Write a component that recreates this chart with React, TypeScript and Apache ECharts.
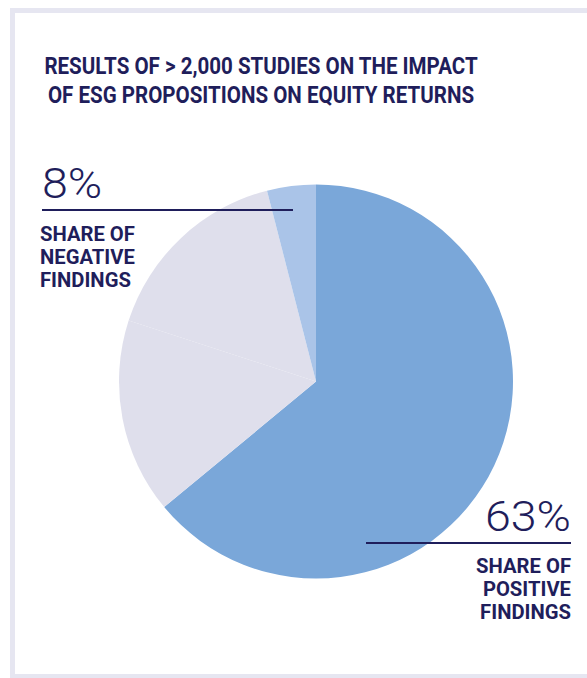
import React, { useEffect, useRef } from "react";
import * as echarts from "echarts";

const categories = ["Positive", "Neutral A", "Neutral B", "Negative"];
const values = [64, 16, 16, 4];
const colors = ["#7aa7d9", "#dfdfec", "#dfdfec", "#aac4e8"];
const titleLines = ["RESULTS OF > 2,000 STUDIES ON THE IMPACT", "OF ESG PROPOSITIONS ON EQUITY RETURNS"];
const negLabel = { value: "8%", lines: ["SHARE OF", "NEGATIVE", "FINDINGS"] };
const posLabel = { value: "63%", lines: ["SHARE OF", "POSITIVE", "FINDINGS"] };

const NAVY = "#1f1e5b";
const TITLE_FONT = "bold 24px Roboto, sans-serif";
const SMALL_FONT = "bold 21px Roboto, sans-serif";
const BIG_FONT = "300 43px Roboto, sans-serif";

function measure(text: string, font: string): number {
  const c = document.createElement("canvas").getContext("2d")!;
  c.font = font;
  return c.measureText(text).width;
}

export default function App() {
  const ref = useRef<HTMLDivElement>(null);
  useEffect(() => {
    const chart = echarts.init(ref.current!, null, { renderer: "svg" });
    const titleScale = 434 / measure(titleLines[0], TITLE_FONT);
    const smallScale = 95 / measure("SHARE OF", SMALL_FONT);
    const bigScale = 86 / measure("63%", BIG_FONT);

    const graphics: any[] = [
      {
        type: "rect",
        shape: { x: 12.5, y: 10.5, width: 600, height: 666 },
        style: { fill: "#fff", stroke: "#e6e6f1", lineWidth: 5 },
        z: -10,
      },
    ];
    titleLines.forEach((t, i) => {
      graphics.push({
        type: "text",
        x: 261,
        y: 65.5 + i * 29,
        scaleX: titleScale,
        style: { text: t, fill: NAVY, font: TITLE_FONT, align: "center", verticalAlign: "middle" },
      });
    });
    graphics.push({
      type: "text",
      x: 42,
      y: 183,
      scaleX: bigScale,
      style: { text: negLabel.value, fill: NAVY, font: BIG_FONT, align: "left", verticalAlign: "middle" },
      z: 10,
    });
    graphics.push({
      type: "line",
      shape: { x1: 42, y1: 210, x2: 293, y2: 210 },
      style: { stroke: NAVY, lineWidth: 2 },
      z: 10,
    });
    negLabel.lines.forEach((t, i) => {
      graphics.push({
        type: "text",
        x: 40,
        y: 233.5 + i * 23.2,
        scaleX: smallScale,
        style: { text: t, fill: NAVY, font: SMALL_FONT, align: "left", verticalAlign: "middle" },
        z: 10,
      });
    });
    graphics.push({
      type: "text",
      x: 571,
      y: 515.7,
      scaleX: bigScale,
      style: { text: posLabel.value, fill: NAVY, font: BIG_FONT, align: "right", verticalAlign: "middle" },
      z: 10,
    });
    graphics.push({
      type: "line",
      shape: { x1: 366, y1: 543, x2: 571, y2: 543 },
      style: { stroke: NAVY, lineWidth: 2 },
      z: 10,
    });
    posLabel.lines.forEach((t, i) => {
      graphics.push({
        type: "text",
        x: 571,
        y: 565.4 + i * 23.3,
        scaleX: smallScale,
        style: { text: t, fill: NAVY, font: SMALL_FONT, align: "right", verticalAlign: "middle" },
        z: 10,
      });
    });
    chart.setOption({
      animation: false,
      backgroundColor: "#fff",
      graphic: graphics,
      series: [
        {
          type: "pie",
          center: [316, 381.5],
          radius: 197,
          startAngle: 90,
          clockwise: true,
          label: { show: false },
          labelLine: { show: false },
          emphasis: { disabled: true },
          silent: true,
          z: 2,
          itemStyle: { borderWidth: 0 },
          data: categories.map((c, i) => ({ name: c, value: values[i], itemStyle: { color: colors[i] } })),
        },
      ],
    });
    return () => chart.dispose();
  }, []);
  return <div ref={ref} style={{ position: "fixed", left: 0, top: 0, width: 587, height: 678 }} />;
}
